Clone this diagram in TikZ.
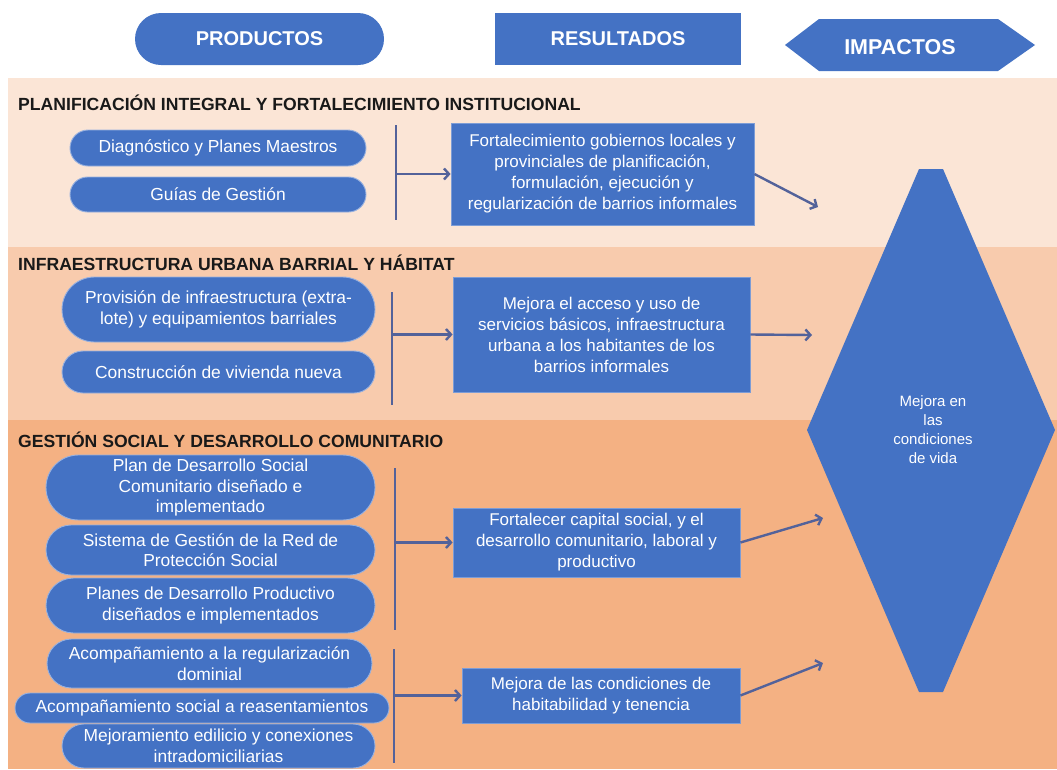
\documentclass[tikz,border=0pt]{standalone}
\usepackage{fontspec}
\setmainfont{Liberation Sans}
\usetikzlibrary{arrows.meta}
\definecolor{blu}{HTML}{4472C4}
\definecolor{bandA}{HTML}{FBE5D6}
\definecolor{bandB}{HTML}{F8CBAD}
\definecolor{bandC}{HTML}{F4B183}
\definecolor{arr}{HTML}{53629A}
\begin{document}
\begin{tikzpicture}[x=1pt,y=-1pt,
  pill/.style={fill=blu, draw=blu!55!white, line width=0.9pt, text=white, align=center,
    font=\fontsize{17.4}{20.5}\selectfont, inner sep=0pt},
  resbox/.style={fill=blu, draw=blu!70!white, line width=0.8pt, text=white, align=center,
    font=\fontsize{17}{21}\selectfont, inner sep=0pt},
  conn/.style={draw=arr, line width=2.4pt},
  arrw/.style={conn, -{Straight Barb[length=5pt,width=11pt]}},
  heading/.style={anchor=west, font=\bfseries\fontsize{17.6}{20}\selectfont, text=black!90, inner sep=0pt},
  hdr/.style={fill=blu, text=white, font=\bfseries\fontsize{20}{24}\selectfont, inner sep=0pt}]
\useasboundingbox (0,0) rectangle (1057,769);
\clip (0,0) rectangle (1057,769);
\fill[white] (0,0) rectangle (1057,769);
% bands
\fill[bandA] (8,78) rectangle (1057,247);
\fill[bandB] (8,247) rectangle (1057,420);
\fill[bandC] (8,420) rectangle (1057,769);
% header
\node[hdr, rounded corners=26pt, minimum width=249pt, minimum height=52pt] (prod) at (259.5,39) {PRODUCTOS};
\node[hdr, minimum width=246pt, minimum height=52pt] (res) at (618,39) {RESULTADOS};
\fill[blu] (785,45) -- (819,19) -- (998,19) -- (1035,45) -- (998,71) -- (819,71) -- cycle;
\node[text=white, font=\bfseries\fontsize{21.5}{24}\selectfont, inner sep=0pt] (imp) at (900,47) {IMPACTOS};
% big hexagon
\fill[blu] (919,169) -- (943,169) -- (1055,430) -- (943,692) -- (919,692) -- (807,430) -- cycle;
\node[text=white, align=center, font=\fontsize{15}{19}\selectfont, inner sep=0pt] (mejora) at (933,430)
  {Mejora en\\las\\condiciones\\de vida};
% headings
\node[heading] (h1) at (18,103) {PLANIFICACIÓN INTEGRAL Y FORTALECIMIENTO INSTITUCIONAL};
\node[heading] (h2) at (18,263) {INFRAESTRUCTURA URBANA BARRIAL Y HÁBITAT};
\node[heading] (h3) at (18,440) {GESTIÓN SOCIAL Y DESARROLLO COMUNITARIO};
% section 1
\node[pill, rounded corners=18pt, minimum width=296pt, minimum height=36pt] (p1) at (218,148) {Diagnóstico y Planes Maestros};
\node[pill, rounded corners=17.5pt, minimum width=296pt, minimum height=35pt] (p2) at (218,194.5) {Guías de Gestión};
\node[resbox, minimum width=303pt, minimum height=102pt] (r1) at (602.5,174)
  {Fortalecimiento gobiernos locales y\\provinciales de planificación,\\formulación, ejecución y\\regularización de barrios informales};
\coordinate (l1t) at (396,125);
\coordinate (l1b) at (396,220);
\draw[conn] (l1t) -- (l1b);
\draw[arrw] (r1.west -| l1t) -- (r1.west);
\coordinate (t1) at (818,207);
\draw[arrw] (r1.east) -- (t1);
% section 2
\node[pill, rounded corners=32.5pt, minimum width=313pt, minimum height=65pt] (p3) at (218.5,309.5)
  {Provisión de infraestructura (extra-\\lote) y equipamientos barriales};
\node[pill, rounded corners=21pt, minimum width=313pt, minimum height=42pt] (p4) at (218.5,372) {Construcción de vivienda nueva};
\node[resbox, minimum width=297pt, minimum height=115pt] (r2) at (601.5,334.5)
  {Mejora el acceso y uso de\\servicios básicos, infraestructura\\urbana a los habitantes de los\\barrios informales};
\coordinate (l2t) at (392,292);
\coordinate (l2b) at (392,405);
\draw[conn] (l2t) -- (l2b);
\draw[arrw] (r2.west -| l2t) -- (r2.west);
\coordinate (t2) at (812,335);
\draw[arrw] (r2.east) -- (t2);
% section 3
\node[pill, rounded corners=32.5pt, minimum width=329pt, minimum height=65pt] (p5) at (210.5,487.5)
  {Plan de Desarrollo Social\\Comunitario diseñado e\\implementado};
\node[pill, rounded corners=25pt, minimum width=329pt, minimum height=50pt] (p6) at (210.5,550)
  {Sistema de Gestión de la Red de\\Protección Social};
\node[pill, rounded corners=27.5pt, minimum width=329pt, minimum height=55pt] (p7) at (210.5,605.5)
  {Planes de Desarrollo Productivo\\diseñados e implementados};
\node[resbox, minimum width=287pt, minimum height=69pt] (r3) at (596.5,542.5)
  {Fortalecer capital social, y el\\desarrollo comunitario, laboral y\\productivo};
\coordinate (l3t) at (395,468);
\coordinate (l3b) at (395,630);
\draw[conn] (l3t) -- (l3b);
\draw[arrw] (r3.west -| l3t) -- (r3.west);
\coordinate (t3) at (823,518);
\draw[arrw] (r3.east) -- (t3);
% section 4
\node[pill, rounded corners=24.5pt, minimum width=325pt, minimum height=49pt] (p8) at (209.5,663.5)
  {Acompañamiento a la regularización\\dominial};
\node[pill, rounded corners=15pt, minimum width=374pt, minimum height=30pt] (p9) at (202,708)
  {Acompañamiento social a reasentamientos};
\node[pill, rounded corners=22pt, minimum width=313pt, minimum height=44pt] (p10) at (218.5,746)
  {Mejoramiento edilicio y conexiones\\intradomiciliarias};
\node[resbox, minimum width=278pt, minimum height=55pt] (r4) at (601,695.5)
  {Mejora de las condiciones de\\habitabilidad y tenencia};
\coordinate (l4t) at (394,649);
\coordinate (l4b) at (394,763);
\draw[conn] (l4t) -- (l4b);
\draw[arrw] (r4.west -| l4t) -- (r4.west);
\coordinate (t4) at (823,663);
\draw[arrw] (r4.east) -- (t4);
\end{tikzpicture}
\end{document}
